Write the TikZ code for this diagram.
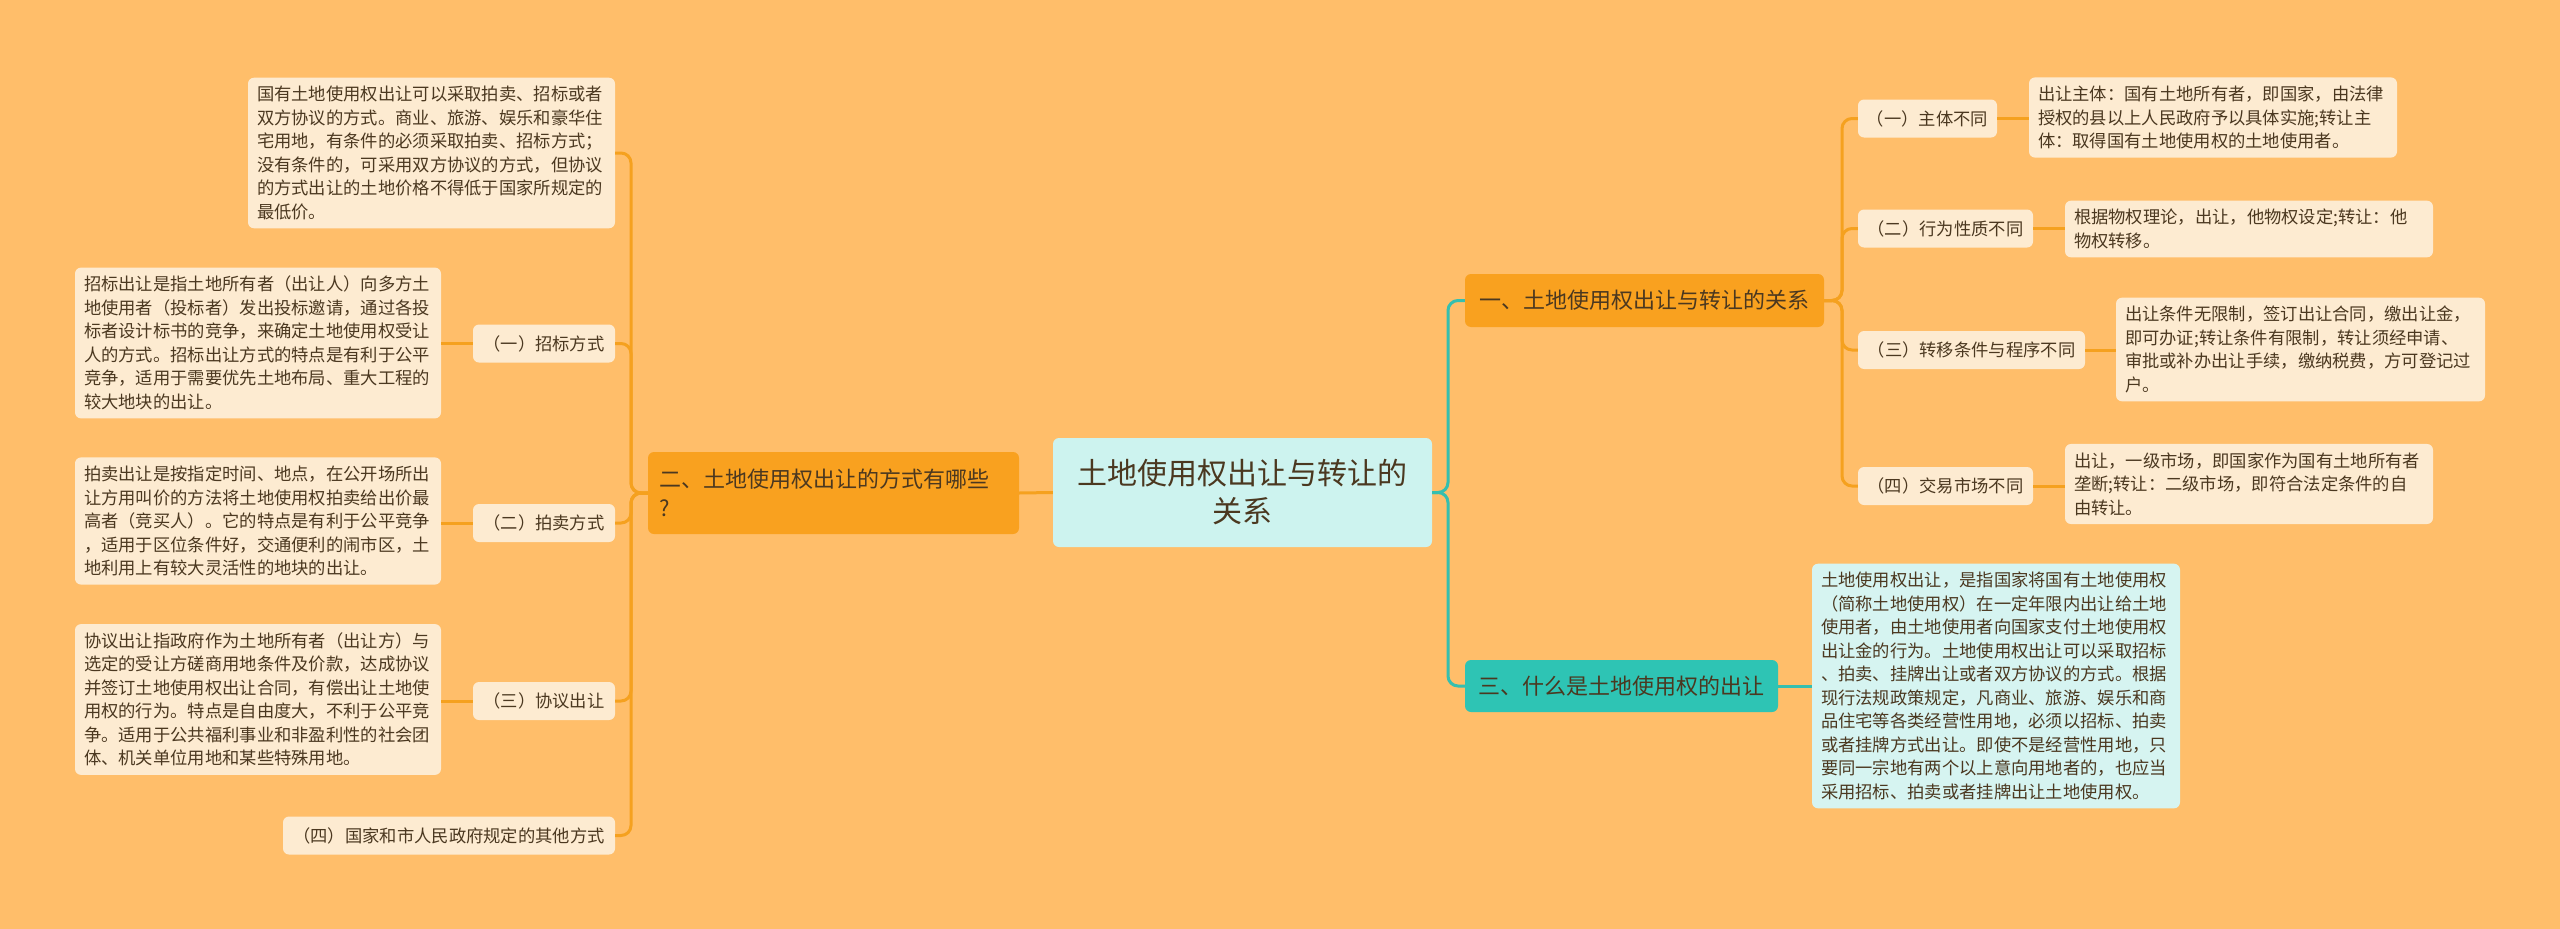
\documentclass[tikz,border=0pt]{standalone}
\usepackage{fontspec}
\setmainfont{Noto Sans CJK SC}
\definecolor{bgc}{HTML}{FFBE6A}
\definecolor{mainc}{HTML}{F9A11F}
\definecolor{leafc}{HTML}{FDEBD1}
\definecolor{centc}{HTML}{CDF3EF}
\definecolor{tealc}{HTML}{2EC4B4}
\definecolor{tleafc}{HTML}{D6F4F1}
\definecolor{olinec}{HTML}{F5A11F}
\definecolor{tlinec}{HTML}{35BFAF}
\definecolor{txt}{HTML}{4B3820}
\begin{document}
\begin{tikzpicture}[x=1pt,y=-1pt,
  leaf/.style={fill=leafc, rounded corners=6pt, align=left, inner xsep=9pt, inner ysep=8.5pt,
    font=\fontsize{17.3}{23.5}\selectfont, text=txt},
  tleaf/.style={leaf, fill=tleafc},
  subn/.style={fill=leafc, rounded corners=6pt, minimum height=38pt, inner sep=0pt,
    font=\fontsize{17.3}{21}\selectfont, text=txt},
  mainn/.style={fill=mainc, rounded corners=6pt, font=\fontsize{22}{29}\selectfont, text=txt, inner sep=0pt},
  oline/.style={draw=olinec, line width=3pt, rounded corners=10pt},
  tline/.style={draw=tlinec, line width=3pt, rounded corners=10pt}]
\fill[bgc] (0,0) rectangle (2560,929);
\useasboundingbox (0,0) rectangle (2560,929);

% central
\node[fill=centc, rounded corners=6pt, minimum width=379pt, minimum height=109pt, inner sep=0pt,
  align=center, font=\fontsize{30}{38}\selectfont, text=txt] (ct) at (1242.5,492.5)
  {土地使用权出让与转让的\\关系};

% main nodes
\node[mainn, minimum width=371pt, minimum height=82pt, text width=349pt, align=left] (lm) at (833.5,493)
  {二、土地使用权出让的方式有哪些\\?};
\node[mainn, minimum width=359pt, minimum height=53pt] (m1) at (1644.5,300.5)
  {一、土地使用权出让与转让的关系};
\node[mainn, fill=tealc, minimum width=313pt, minimum height=52pt] (m3) at (1621.5,686)
  {三、什么是土地使用权的出让};

% left subs
\node[subn, minimum width=142pt] (s1) at (544,343.5) {（一）招标方式};
\node[subn, minimum width=142pt] (s2) at (544,523) {（二）拍卖方式};
\node[subn, minimum width=142pt] (s3) at (544,701) {（三）协议出让};
\node[subn, minimum width=332pt] (s4) at (449,835.5) {（四）国家和市人民政府规定的其他方式};

% left leaves
\node[leaf, text width=349pt] (l0) at (431.5,153)
  {国有土地使用权出让可以采取拍卖、招标或者\\
   双方协议的方式。商业、旅游、娱乐和豪华住\\
   宅用地，有条件的必须采取拍卖、招标方式；\\
   没有条件的，可采用双方协议的方式，但协议\\
   的方式出让的土地价格不得低于国家所规定的\\
   最低价。};
\node[leaf, text width=348pt] (l1) at (258,343)
  {招标出让是指土地所有者（出让人）向多方土\\
   地使用者（投标者）发出投标邀请，通过各投\\
   标者设计标书的竞争，来确定土地使用权受让\\
   人的方式。招标出让方式的特点是有利于公平\\
   竞争，适用于需要优先土地布局、重大工程的\\
   较大地块的出让。};
\node[leaf, text width=348pt] (l2) at (258,521)
  {拍卖出让是按指定时间、地点，在公开场所出\\
   让方用叫价的方法将土地使用权拍卖给出价最\\
   高者（竞买人）。它的特点是有利于公平竞争\\
   ，适用于区位条件好，交通便利的闹市区，土\\
   地利用上有较大灵活性的地块的出让。};
\node[leaf, text width=348pt] (l3) at (258,699.5)
  {协议出让指政府作为土地所有者（出让方）与\\
   选定的受让方磋商用地条件及价款，达成协议\\
   并签订土地使用权出让合同，有偿出让土地使\\
   用权的行为。特点是自由度大，不利于公平竞\\
   争。适用于公共福利事业和非盈利性的社会团\\
   体、机关单位用地和某些特殊用地。};

% right subs
\node[subn, minimum width=139pt] (r1) at (1927.5,118.5) {（一）主体不同};
\node[subn, minimum width=175pt] (r2) at (1945.5,228.5) {（二）行为性质不同};
\node[subn, minimum width=227pt] (r3) at (1971.5,350) {（三）转移条件与程序不同};
\node[subn, minimum width=175pt] (r4) at (1945.5,486) {（四）交易市场不同};

% right leaves
\node[leaf, text width=350pt] (q1) at (2213,117.5)
  {出让主体：国有土地所有者，即国家，由法律\\
   授权的县以上人民政府予以具体实施;转让主\\
   体：取得国有土地使用权的土地使用者。};
\node[leaf, text width=350pt] (q2) at (2249,229)
  {根据物权理论，出让，他物权设定;转让：他\\
   物权转移。};
\node[leaf, text width=351pt] (q3) at (2300.5,349.5)
  {出让条件无限制，签订出让合同，缴出让金，\\
   即可办证;转让条件有限制，转让须经申请、\\
   审批或补办出让手续，缴纳税费，方可登记过\\
   户。};
\node[leaf, text width=350pt] (q4) at (2249,484)
  {出让，一级市场，即国家作为国有土地所有者\\
   垄断;转让：二级市场，即符合法定条件的自\\
   由转让。};
\node[tleaf, text width=350pt] (q5) at (1996,686)
  {土地使用权出让，是指国家将国有土地使用权\\
   （简称土地使用权）在一定年限内出让给土地\\
   使用者，由土地使用者向国家支付土地使用权\\
   出让金的行为。土地使用权出让可以采取招标\\
   、拍卖、挂牌出让或者双方协议的方式。根据\\
   现行法规政策规定，凡商业、旅游、娱乐和商\\
   品住宅等各类经营性用地，必须以招标、拍卖\\
   或者挂牌方式出让。即使不是经营性用地，只\\
   要同一宗地有两个以上意向用地者的，也应当\\
   采用招标、拍卖或者挂牌出让土地使用权。};

% split coordinates
\coordinate (lsplit) at (631,493);
\coordinate (rsplit) at (1448,492.5);
\coordinate (r1split) at (1842,300.5);

% connectors
\begin{scope}[on background layer/.style={}]
\draw[oline] (lm.east) -- (ct.west);
\foreach \c in {l0,s1,s2,s3,s4}
  \draw[oline] (lm.west) -- (lsplit) |- (\c.east);
\draw[oline] (s1.west) -- (s1.west -| l1.east);
\draw[oline] (s2.west) -- (s2.west -| l2.east);
\draw[oline] (s3.west) -- (s3.west -| l3.east);
\draw[tline] (ct.east) -- (rsplit) |- (m1.west);
\draw[tline] (ct.east) -- (rsplit) |- (m3.west);
\foreach \c in {r1,r2,r3,r4}
  \draw[oline] (m1.east) -- (r1split) |- (\c.west);
\draw[oline] (r1.east) -- (r1.east -| q1.west);
\draw[oline] (r2.east) -- (r2.east -| q2.west);
\draw[oline] (r3.east) -- (r3.east -| q3.west);
\draw[oline] (r4.east) -- (r4.east -| q4.west);
\draw[tline] (m3.east) -- (m3.east -| q5.west);
\end{scope}
\end{tikzpicture}
\end{document}
